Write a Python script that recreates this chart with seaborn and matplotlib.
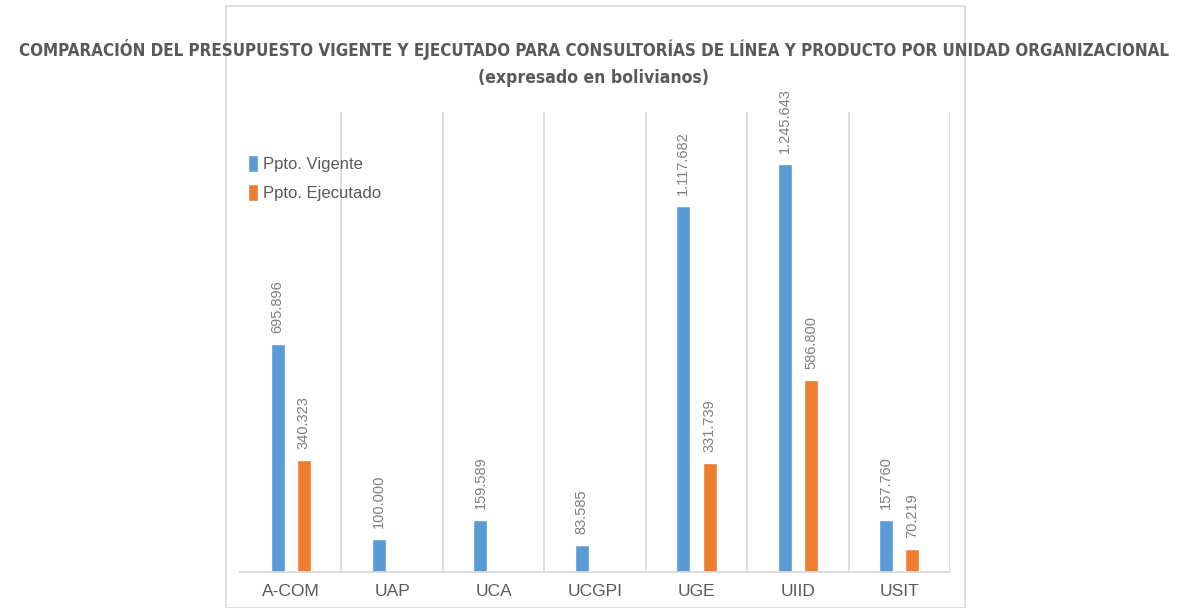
import matplotlib
matplotlib.use("Agg")
import matplotlib.pyplot as plt
import seaborn as sns
import pandas as pd
from matplotlib.patches import Rectangle

unidades = ["A-COM", "UAP", "UCA", "UCGPI", "UGE", "UIID", "USIT"]
vigente = [695896, 100000, 159589, 83585, 1117682, 1245643, 157760]
ejecutado = [340323, 0, 0, 0, 331739, 586800, 70219]
series = ["Ppto. Vigente", "Ppto. Ejecutado"]
colores = ["#5B9BD5", "#ED7D31"]

df = pd.DataFrame({"unidad": unidades * 2,
                   "serie": [series[0]] * 7 + [series[1]] * 7,
                   "valor": vigente + ejecutado})

sns.set_theme(style="white")
plt.rcParams['font.family'] = ["Liberation Sans", "DejaVu Sans"]

fig = plt.figure(figsize=(11.87, 6.08), dpi=100)
ax = fig.add_axes([240/1187, 1-572/608, 710/1187, 460/608])

sns.barplot(data=df, x="unidad", y="valor", hue="serie", palette=colores, saturation=1,
            width=0.52, gap=0.47, ax=ax, legend=True)

def fmt(v):
    return "" if v == 0 else f"{int(v):,}".replace(",", ".")

for cont in ax.containers:
    ax.bar_label(cont, labels=[fmt(b.get_height()) for b in cont], rotation=90,
                 padding=8, color="#7f7f7f", fontsize=10.5)

ax.set_ylim(0, 1404000)
ax.set_xlim(-0.5, 6.5)
ax.set_yticks([])
ax.set_xlabel("")
ax.set_ylabel("")
for s in ["left", "top", "right"]:
    ax.spines[s].set_visible(False)
ax.spines["bottom"].set_color("#d9d9d9")
for x in [0.5, 1.5, 2.5, 3.5, 4.5, 5.5, 6.5]:
    ax.axvline(x, color="#d9d9d9", lw=1.2, zorder=0)
ax.tick_params(axis="x", length=0, pad=9, labelsize=12.5, labelcolor="#595959")

leg = ax.legend(loc="upper left", bbox_to_anchor=(-0.01, 0.94), frameon=False,
                fontsize=12, labelcolor="#595959", handlelength=0.6, handleheight=1.2,
                handletextpad=0.3, labelspacing=0.75)

fig.patches.append(Rectangle((226/1187, 0), (965-226)/1187, 1-6/608, transform=fig.transFigure,
                             fill=False, edgecolor="#d9d9d9", lw=1.2))

fig.text(594/1187, 1-50/608,
         "COMPARACIÓN DEL PRESUPUESTO VIGENTE Y EJECUTADO PARA CONSULTORÍAS DE LÍNEA Y PRODUCTO POR UNIDAD ORGANIZACIONAL",
         ha="center", va="center", fontsize=12.2, fontweight="bold", color="#595959",
         family="DejaVu Sans", fontstretch="condensed")
fig.text(594/1187, 1-78/608, "(expresado en bolivianos)",
         ha="center", va="center", fontsize=12.6, fontweight="bold", color="#595959",
         family="DejaVu Sans", fontstretch="condensed")

fig.savefig("out.png", dpi=100)
